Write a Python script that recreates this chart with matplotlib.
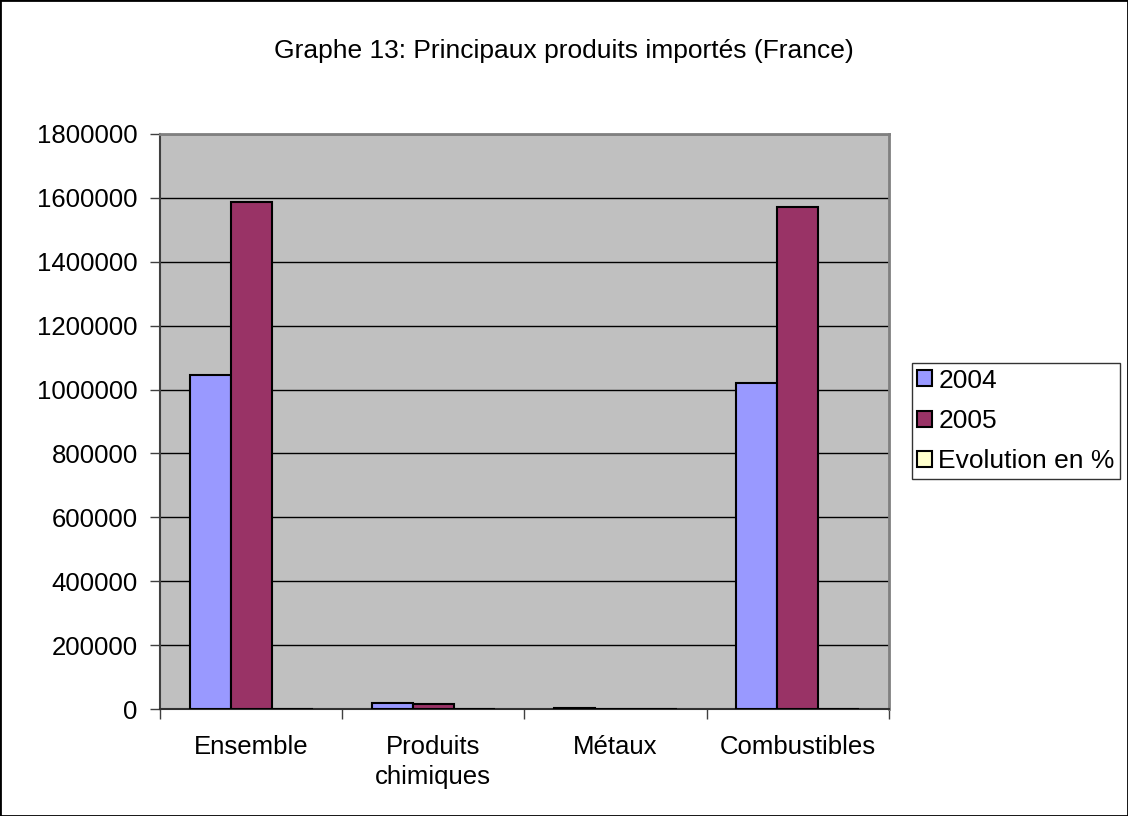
import numpy as np
import matplotlib
matplotlib.use("Agg")
import matplotlib.pyplot as plt
from matplotlib.patches import Rectangle

plt.rcParams['font.family'] = ['Liberation Sans', 'DejaVu Sans']

# data
categories = ["Ensemble", "Produits\nchimiques", "Métaux", "Combustibles"]
series_names = ["2004", "2005", "Evolution en %"]
val_2004 = [1046000, 19000, 3000, 1020000]
val_2005 = [1588000, 15000, 1500, 1572000]
evolution = [52, -21, -50, 54]
yticks = [0, 200000, 400000, 600000, 800000, 1000000, 1200000, 1400000, 1600000, 1800000]

colors = ["#9999FF", "#993366", "#FFFFCC"]
fs = 18.5

fig = plt.figure(figsize=(11.28, 8.16), dpi=100)
ax = fig.add_axes([0.1418, 0.1311, 0.788 - 0.1418, 0.8358 - 0.1311])
ax.set_facecolor("#C0C0C0")

x = np.arange(len(categories))
width = 0.225
all_series = [val_2004, val_2005, evolution]
for i, (name, vals) in enumerate(zip(series_names, all_series)):
    ax.bar(x + (i - 1) * width, vals, width, color=colors[i], edgecolor="black",
           linewidth=1.5, label=name, zorder=3)

ax.set_xlim(-0.5, len(categories) - 0.5)
ax.set_ylim(0, 1800000)
ax.set_yticks(yticks)
ax.set_yticklabels([str(v) for v in yticks], fontsize=fs)
ax.yaxis.grid(True, color="black", linewidth=1, zorder=1)
ax.set_axisbelow(True)

# category labels centered, ticks on boundaries
ax.set_xticks(x)
ax.set_xticklabels(categories, fontsize=fs, linespacing=1.3)
ax.tick_params(axis='x', length=0, pad=19)
ax.set_xticks(np.arange(-0.5, len(categories)), minor=True)
ax.tick_params(axis='x', which='minor', length=7, width=1, color="#404040", direction='out')
ax.tick_params(axis='y', length=7, width=1, color="#404040", direction='out', pad=9)

for side in ["top", "right"]:
    ax.spines[side].set_color("#808080")
    ax.spines[side].set_linewidth(2)
ax.spines["left"].set_color("#404040")
ax.spines["left"].set_linewidth(1.5)
ax.spines["bottom"].set_color("#303030")
ax.spines["bottom"].set_linewidth(1.5)

fig.text(0.5, 0.937, "Graphe 13: Principaux produits importés (France)",
         ha="center", va="center", fontsize=19)

leg = fig.legend(loc="center left", bbox_to_anchor=(912 / 1128, 1 - 421 / 816),
                 fontsize=19, frameon=True, fancybox=False, handlelength=0.55,
                 handleheight=0.55, handletextpad=0.25, borderaxespad=0,
                 labelspacing=0.62, borderpad=0.2)
leg.get_frame().set_edgecolor("black")
leg.get_frame().set_linewidth(1)

# outer border
fig.patches.append(Rectangle((0, 0), 1, 1, transform=fig.transFigure, fill=False,
                             edgecolor="black", linewidth=2))

fig.savefig("out.png", dpi=100)
